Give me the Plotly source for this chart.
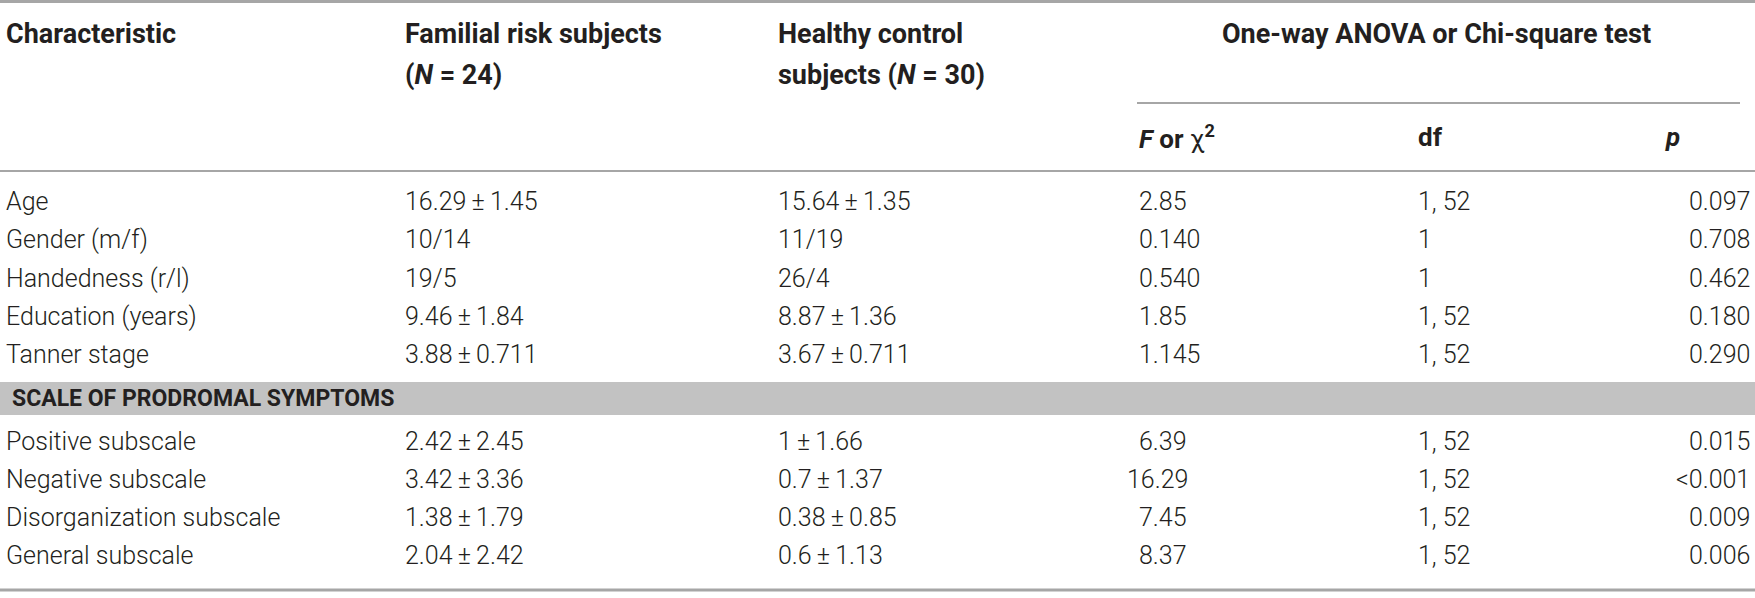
import plotly.graph_objects as go

# table content
characteristics = ["Age", "Gender (m/f)", "Handedness (r/l)", "Education (years)", "Tanner stage"]
symptoms = ["Positive subscale", "Negative subscale", "Disorganization subscale", "General subscale"]
section_title = "SCALE OF PRODROMAL SYMPTOMS"

familial = ["16.29 ± 1.45", "10/14", "19/5", "9.46 ± 1.84", "3.88 ± 0.711",
            "2.42 ± 2.45", "3.42 ± 3.36", "1.38 ± 1.79", "2.04 ± 2.42"]
healthy = ["15.64 ± 1.35", "11/19", "26/4", "8.87 ± 1.36", "3.67 ± 0.711",
           "1 ± 1.66", "0.7 ± 1.37", "0.38 ± 0.85", "0.6 ± 1.13"]
f_chi = ["2.85", "0.140", "0.540", "1.85", "1.145", "6.39", "16.29", "7.45", "8.37"]
dfs = ["1, 52", "1", "1", "1, 52", "1, 52", "1, 52", "1, 52", "1, 52", "1, 52"]
p_values = ["0.097", "0.708", "0.462", "0.180", "0.290", "0.015", "<0.001", "0.009", "0.006"]

header_cols = [["Characteristic"],
               ["Familial risk subjects", "(<i>N</i> = 24)"],
               ["Healthy control", "subjects (<i>N</i> = 30)"]]
test_header = "One-way ANOVA or Chi-square test"
sub_headers = ["<i>F</i> or <span style='font-weight:normal'>χ</span><sup>2</sup>", "df", "<i>p</i>"]

W, H = 1755, 598
FONT = "Roboto, Liberation Sans, Arial, sans-serif"
INK = "#231f20"
RULE = "#a6a6a6"
BAND = "#c2c2c2"

col_x = [4, 403, 776]
f_x, df_x, p_x = 1137, 1416, 1752

row_step = 38.3
block1_y0 = 201.6
band_top, band_bot = 382, 415
block2_y0 = 441

fig = go.Figure()
fig.add_trace(go.Scatter(x=[0, W], y=[0, H], mode="markers",
                         marker=dict(opacity=0), hoverinfo="skip", showlegend=False))

ann = []


def txt(x, y, s, anchor="left", size=25, bold=False):
    ann.append(dict(x=x, y=y, xref="x", yref="y", text=s, showarrow=False,
                    xanchor=anchor, yanchor="middle",
                    font=dict(family=FONT, size=size, color=INK,
                              weight=700 if bold else 300)))


# header
for i, lines in enumerate(header_cols):
    for j, line in enumerate(lines):
        txt(col_x[i], 34 + j * 41, line, size=27, bold=True)
txt(1436, 34, test_header, anchor="center", size=27, bold=True)
txt(f_x, 137, sub_headers[0], size=26, bold=True)
txt(df_x, 137, sub_headers[1], size=26, bold=True)
txt(1672, 137, sub_headers[2], anchor="center", size=26, bold=True)

# body rows
labels = characteristics + symptoms
ys = [block1_y0 + i * row_step for i in range(len(characteristics))] + \
     [block2_y0 + i * row_step for i in range(len(symptoms))]
digit_w = 12.5
for i, y in enumerate(ys):
    txt(col_x[0], y, labels[i])
    txt(col_x[1], y, familial[i].replace(" ± ", "\u2009±\u2009"))
    txt(col_x[2], y, healthy[i].replace(" ± ", "\u2009±\u2009"))
    int_len = len(f_chi[i].split(".")[0])
    txt(f_x - (int_len - 1) * digit_w, y, f_chi[i])
    txt(df_x, y, dfs[i])
    txt(p_x, y, p_values[i], anchor="right")

txt(col_x[0] + 6, (band_top + band_bot) / 2, section_title, size=23, bold=True)

shapes = [
    dict(type="line", x0=0, x1=W, y0=1.5, y1=1.5, line=dict(color=RULE, width=3)),
    dict(type="line", x0=f_x, x1=1740, y0=103, y1=103, line=dict(color=RULE, width=2)),
    dict(type="line", x0=0, x1=W, y0=171, y1=171, line=dict(color=RULE, width=2)),
    dict(type="rect", x0=0, x1=W, y0=band_top, y1=band_bot, fillcolor=BAND, line=dict(width=0),
         layer="below"),
    dict(type="line", x0=0, x1=W, y0=590, y1=590, line=dict(color=RULE, width=3)),
]

fig.update_layout(
    width=W, height=H,
    margin=dict(l=0, r=0, t=0, b=0),
    paper_bgcolor="white", plot_bgcolor="white",
    xaxis=dict(range=[0, W], visible=False, fixedrange=True),
    yaxis=dict(range=[H, 0], visible=False, fixedrange=True),
    annotations=ann, shapes=shapes,
)

# the page's default body margin would push the table off the right edge
fig.write_html("out.html", config={"displayModeBar": False},
               post_script="document.body.style.margin = '0px';")
